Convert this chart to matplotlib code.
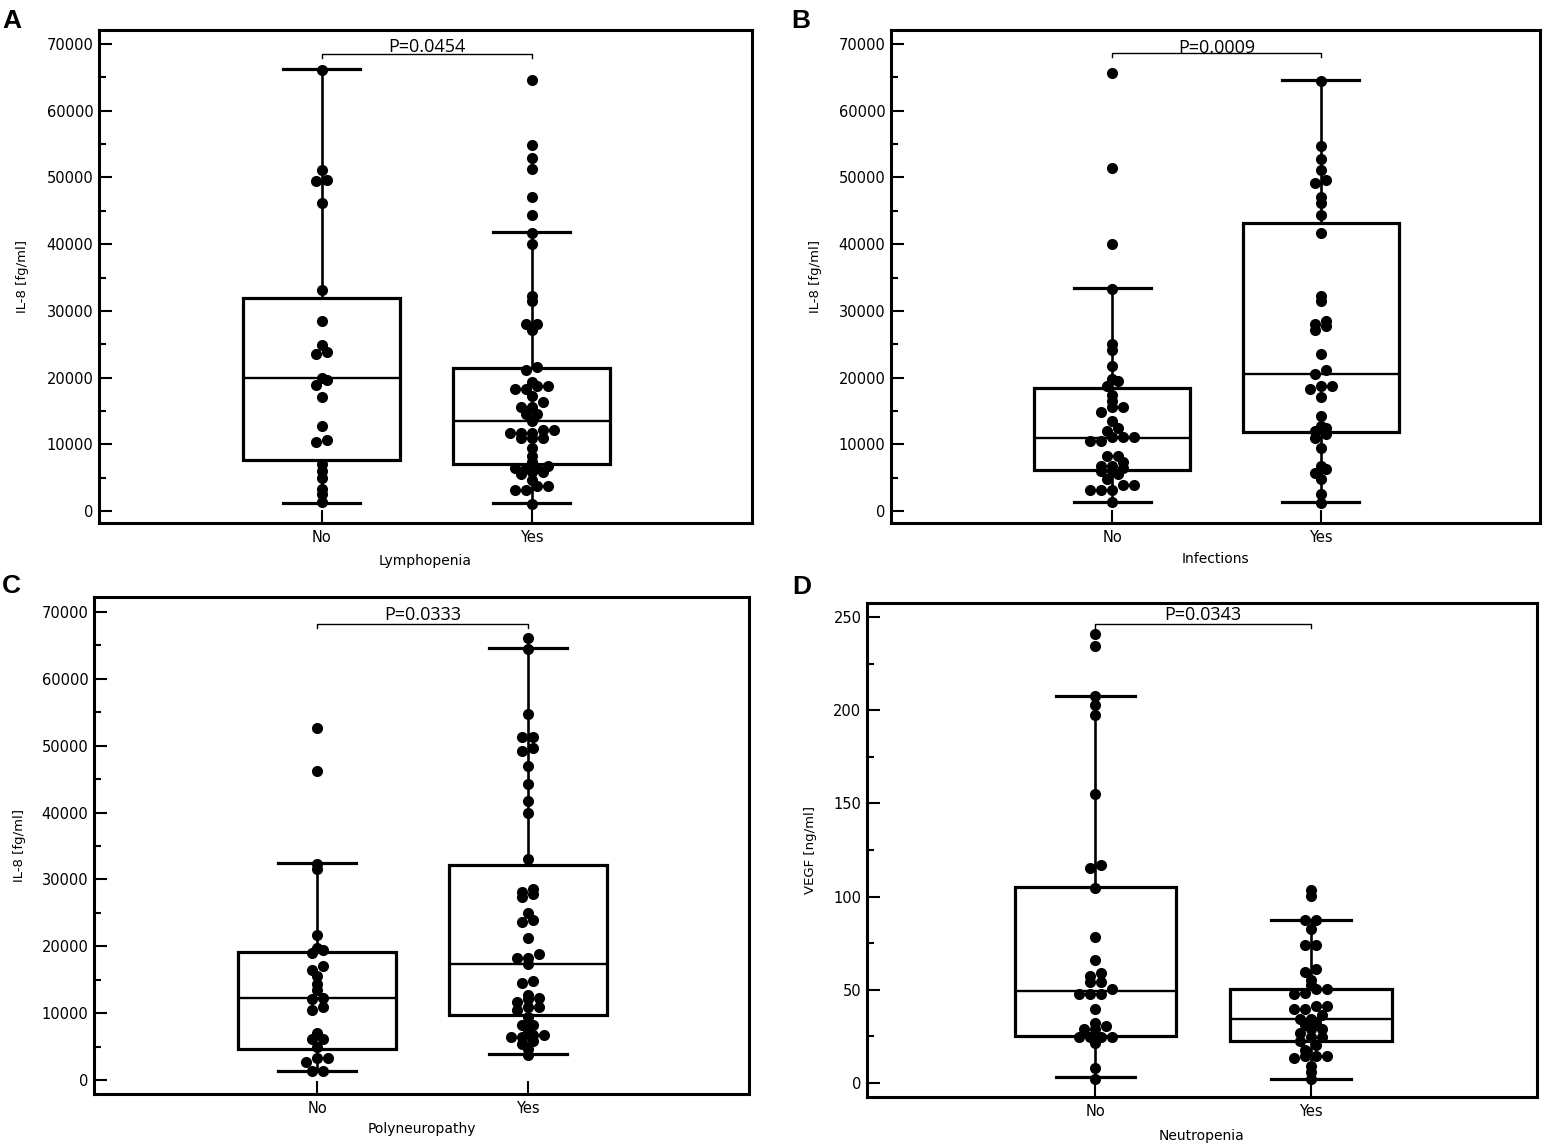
import numpy as np
import matplotlib
matplotlib.use('Agg')
import matplotlib.pyplot as plt
import matplotlib.transforms as mtransforms
from matplotlib.ticker import MultipleLocator

plt.rcParams['font.family'] = 'DejaVu Sans'

categories = ['No', 'Yes']

# A - Lymphopenia, IL-8
a_no = [66100, 51100, 49600, 49400, 46200, 33100, 28500, 24900, 23900, 23600, 20000, 19600,
        18900, 17100, 12700, 10700, 10300, 7000, 6000, 4900, 3300, 2500, 1300]
a_yes = [64600, 54800, 52900, 51300, 47000, 44400, 41600, 40000, 32300, 31500, 28000, 28000,
         27200, 21600, 21100, 19400, 18800, 18800, 18300, 18300, 17300, 16300, 15600, 15600,
         14500, 14500, 13500, 12200, 12200, 11700, 11700, 11700, 10900, 10900, 10900, 9500,
         8200, 7400, 6800, 6500, 6500, 6500, 5900, 5900, 5500, 4600, 3800, 3800, 3100, 3100, 1100]
# whisker low, q1, median, q3, whisker high
a_stats = [(1200, 7700, 19900, 32000, 66200), (1200, 7100, 13500, 21500, 41800)]

# B - Infections, IL-8
b_no = [65700, 51400, 40000, 33300, 25000, 24100, 21700, 19800, 19500, 18800, 17400, 16500,
        15600, 15600, 14900, 13500, 12400, 12000, 11100, 11100, 11100, 10500, 10500, 8300, 8300,
        7400, 6800, 6800, 6500, 6000, 6000, 5500, 4800, 3900, 3900, 3200, 3200, 3200, 1300]
b_yes = [64400, 54700, 52800, 51100, 49600, 49100, 47000, 46200, 44300, 41700, 32300, 31500,
         28500, 28000, 27700, 27200, 23500, 21200, 20500, 18800, 18800, 18300, 17100, 14200,
         12800, 12400, 12000, 11600, 11000, 9500, 6800, 6300, 5700, 4800, 2600, 1200]
b_stats = [(1400, 6200, 11000, 18500, 33400), (1300, 11900, 20600, 43100, 64600)]

# C - Polyneuropathy, IL-8
c_no = [52700, 46200, 32300, 31500, 21700, 19800, 19500, 19000, 17100, 16500, 15500, 14400,
        13500, 12300, 12100, 10900, 10500, 7100, 6200, 6200, 4900, 3300, 3300, 2700, 1300, 1300]
c_yes = [66100, 64500, 54700, 51300, 51300, 49600, 49200, 47000, 44300, 41700, 39900, 33100,
         28600, 28100, 27800, 27300, 25000, 24000, 23700, 21200, 18800, 18200, 18200, 17300,
         14800, 14500, 12700, 12300, 12100, 11700, 10900, 10900, 10500, 9400, 8300, 8300, 7500,
         6800, 6800, 6400, 6400, 5900, 5400, 4600, 3800]
c_stats = [(1300, 4700, 12200, 19100, 32500), (3900, 9700, 17400, 32100, 64600)]

# D - Neutropenia, VEGF
d_no = [241.1, 234.6, 207.5, 202.6, 197.6, 155.1, 117.2, 115.2, 104.7, 78.5, 66.2, 58.9, 57.3,
        54.0, 54.0, 50.4, 47.8, 47.8, 47.8, 39.5, 32.0, 30.6, 29.1, 29.1, 24.7, 24.7, 24.7, 24.7,
        21.7, 7.9, 2.4]
d_yes = [103.4, 100.4, 87.5, 87.5, 82.4, 74.1, 74.1, 61.3, 59.3, 55.3, 52.4, 50.4, 50.4, 48.4,
         47.8, 41.5, 41.5, 39.5, 39.5, 36.6, 34.2, 34.2, 32.6, 31.2, 29.1, 29.1, 26.7, 24.7, 24.7,
         22.7, 20.4, 17.8, 14.4, 14.4, 14.4, 13.2, 8.9, 5.9, 2.0]
d_stats = [(3.4, 25.3, 49.4, 105.3, 207.5), (2.4, 22.7, 34.6, 50.4, 87.5)]

letters = ['A', 'B', 'C', 'D']
ylabels = ['IL-8 [fg/ml]', 'IL-8 [fg/ml]', 'IL-8 [fg/ml]', 'VEGF [ng/ml]']
xlabels = ['Lymphopenia', 'Infections', 'Polyneuropathy', 'Neutropenia']
p_texts = ['P=0.0454', 'P=0.0009', 'P=0.0333', 'P=0.0343']
bracket_y = [68500, 68700, 68200, 246.4]

W, H = 1548, 1147
fig = plt.figure(figsize=(W / 100, H / 100), dpi=100)

# frame in pixels: left, right, top, bottom
frames = [(99, 752, 30, 523), (891, 1540, 30, 523), (94, 749, 597, 1094), (867, 1537, 603, 1097)]
ylims = [(-1800, 72100), (-1800, 72100), (-2090, 72240), (-7.5, 257.5)]
ysteps = [(10000, 5000), (10000, 5000), (10000, 5000), (50, 25)]
ylab_right_px = [29, 822, 26, 817]
xlab_top_px = [554, 552, 1122, 1129]
letter_pos = [(2, 28), (791, 28), (2, 593), (792, 594)]
text_gap = [1.5, 0.0, 3.0, 3.0]


def swarm_x(ax, vals, dot_px=11, row_px=5.0):
    # MedCalc-like dot rows: values closer than row_px share a row, spread symmetrically
    p = ax.transData.transform([(0, 0), (1, 1)])
    xpx = p[1, 0] - p[0, 0]
    ypx = p[1, 1] - p[0, 1]
    order = np.argsort(vals, kind='stable')
    offs = np.zeros(len(vals))
    rows = []
    for i in order:
        if rows and (vals[i] - vals[rows[-1][0]]) * ypx < row_px:
            rows[-1].append(i)
        else:
            rows.append([i])
    for r in rows:
        n = len(r)
        for k, i in enumerate(r):
            offs[i] = (k - (n - 1) / 2) * dot_px / xpx
    return offs


panels = [(a_no, a_yes, a_stats), (b_no, b_yes, b_stats), (c_no, c_yes, c_stats), (d_no, d_yes, d_stats)]

for j, (g_no, g_yes, stats) in enumerate(panels):
    l, r, t, b = frames[j]
    ax = fig.add_axes([l / W, 1 - b / H, (r - l) / W, (b - t) / H])

    bst = [dict(whislo=s[0], q1=s[1], med=s[2], q3=s[3], whishi=s[4], fliers=[]) for s in stats]
    ax.bxp(bst, positions=[1, 2], widths=0.75, capwidths=0.37, showfliers=False,
           patch_artist=True, zorder=2,
           boxprops=dict(facecolor='white', edgecolor='black', linewidth=2.3),
           whiskerprops=dict(color='black', linewidth=1.9),
           capprops=dict(color='black', linewidth=2.3),
           medianprops=dict(color='black', linewidth=1.7))

    ax.set_xlim(-0.06, 3.05)
    ax.set_ylim(*ylims[j])

    for i, vals in enumerate([g_no, g_yes]):
        vals = np.asarray(vals, float)
        ax.scatter(1 + i + swarm_x(ax, vals), vals, s=64, color='black', linewidths=0, zorder=3)

    # significance bracket
    yr = ylims[j][1] - ylims[j][0]
    by = bracket_y[j]
    leg = 0.009 * yr
    ax.plot([1, 1, 2, 2], [by - leg, by, by, by - leg], color='black', lw=1.0, zorder=3)
    tr = mtransforms.offset_copy(ax.transData, fig=fig, y=text_gap[j], units='points')
    ax.text(1.5, by, p_texts[j], ha='center', va='baseline', fontsize=13,
            family='Open Sans', transform=tr)

    ax.set_xticks([1, 2], categories)
    ax.yaxis.set_major_locator(MultipleLocator(ysteps[j][0]))
    ax.yaxis.set_minor_locator(MultipleLocator(ysteps[j][1]))
    ax.tick_params(axis='both', which='major', direction='in', length=9.4, width=1.5,
                   labelsize=10.5, top=False, right=False)
    ax.tick_params(axis='y', which='minor', direction='in', length=5, width=1.5, right=False)
    ax.tick_params(axis='x', pad=5)
    ax.tick_params(axis='y', pad=4)
    for sp in ax.spines.values():
        sp.set_linewidth(2.2)

    ax.set_ylabel(ylabels[j], fontsize=9.5)
    ax.yaxis.set_label_coords((ylab_right_px[j] - l) / (r - l), 0.5)
    ax.set_xlabel(xlabels[j], fontsize=10)
    ax.xaxis.set_label_coords(0.5, -(xlab_top_px[j] - b) / (b - t))

    lx, ly = letter_pos[j]
    fig.text(lx / W, 1 - ly / H, letters[j], fontsize=19, fontweight='bold',
             family='Liberation Sans', va='baseline', ha='left')

fig.savefig('out.png', dpi=100)
